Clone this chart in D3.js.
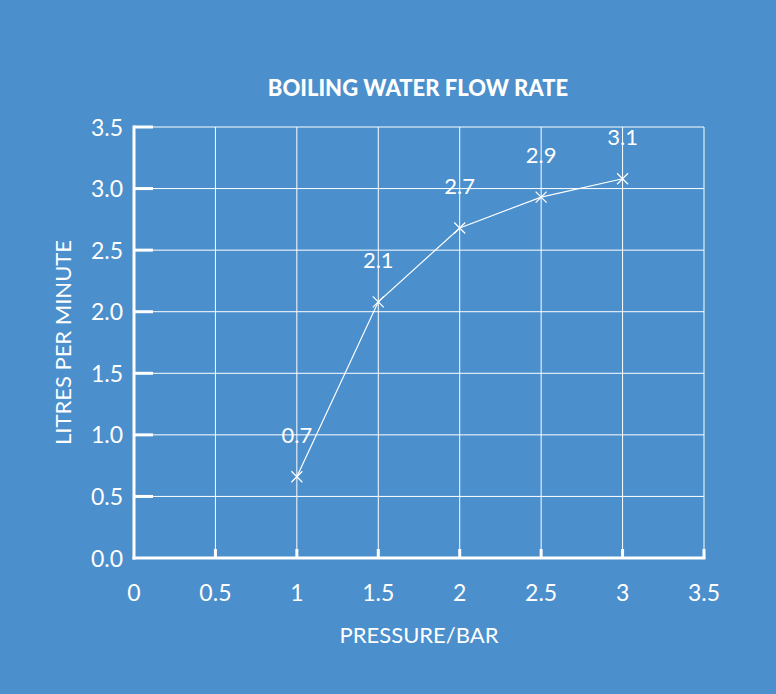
<!DOCTYPE html>
<html>
<head>
<meta charset="utf-8">
<script src="https://cdn.jsdelivr.net/npm/d3@7"></script>
<style>
  body { margin: 0; background: #4b8fcc; }
  svg text { fill: #fff; font-family: "Lato", "Open Sans", sans-serif; }
</style>
</head>
<body>
<svg id="chart"></svg>
<script>
// chart data
var pressures = [1, 1.5, 2, 2.5, 3];
var flowRates = [0.66, 2.08, 2.68, 2.93, 3.08];
var pointLabels = ["0.7", "2.1", "2.7", "2.9", "3.1"];
var xTicks = [0, 0.5, 1, 1.5, 2, 2.5, 3, 3.5];
var xTickLabels = ["0", "0.5", "1", "1.5", "2", "2.5", "3", "3.5"];
var yTicks = [0, 0.5, 1, 1.5, 2, 2.5, 3, 3.5];

var width = 776, height = 694;
var margin = {top: 127, right: 72, bottom: 136, left: 134};

var svg = d3.select("#chart")
  .attr("width", width)
  .attr("height", height);

svg.append("rect")
  .attr("width", width).attr("height", height)
  .attr("fill", "#4b8fcc");

var x = d3.scaleLinear().domain([0, 3.5]).range([margin.left, width - margin.right]);
var y = d3.scaleLinear().domain([0, 3.5]).range([height - margin.bottom, margin.top]);

// title
svg.append("text")
  .attr("x", 418).attr("y", 96)
  .attr("text-anchor", "middle")
  .attr("font-size", 22)
  .attr("font-weight", 900)
  .text("BOILING WATER FLOW RATE");

// grid lines
var grid = svg.append("g").attr("stroke", "#fff").attr("stroke-width", 1);
grid.selectAll(".vg").data(xTicks.slice(1)).enter().append("line")
  .attr("x1", d => x(d)).attr("x2", d => x(d))
  .attr("y1", y(0)).attr("y2", y(3.5));
grid.selectAll(".hg").data(yTicks.slice(1)).enter().append("line")
  .attr("x1", x(0)).attr("x2", x(3.5))
  .attr("y1", d => y(d)).attr("y2", d => y(d));

// thick axis lines and ticks
var axes = svg.append("g").attr("stroke", "#fff").attr("stroke-width", 3);
axes.append("line").attr("x1", x(0)).attr("x2", x(0)).attr("y1", y(0) + 1.5).attr("y2", y(3.5) - 1.5);
axes.append("line").attr("x1", x(0) - 1.5).attr("x2", x(3.5) + 1.5).attr("y1", y(0)).attr("y2", y(0));
axes.selectAll(".yt").data(yTicks.slice(1)).enter().append("line")
  .attr("x1", x(0)).attr("x2", x(0) + 19)
  .attr("y1", d => y(d)).attr("y2", d => y(d));
axes.selectAll(".xt").data(xTicks.slice(1)).enter().append("line")
  .attr("x1", d => x(d)).attr("x2", d => x(d))
  .attr("y1", y(0)).attr("y2", y(0) - 9);

// tick labels
svg.selectAll(".yl").data(yTicks).enter().append("text")
  .attr("x", x(0) - 11).attr("y", d => y(d) + 8.5)
  .attr("text-anchor", "end")
  .attr("font-size", 23)
  .text(d => d.toFixed(1));
svg.selectAll(".xl").data(xTicks).enter().append("text")
  .attr("x", d => x(d)).attr("y", y(0) + 43)
  .attr("text-anchor", "middle")
  .attr("font-size", 23)
  .text((d, i) => xTickLabels[i]);

// axis titles
svg.append("text")
  .attr("x", 419).attr("y", 643)
  .attr("text-anchor", "middle")
  .attr("font-size", 22)
  .text("PRESSURE/BAR");
svg.append("text")
  .attr("transform", "translate(71," + y(1.75) + ") rotate(-90)")
  .attr("text-anchor", "middle")
  .attr("font-size", 22)
  .text("LITRES PER MINUTE");

// data line
var pts = pressures.map((p, i) => [p, flowRates[i]]);
var line = d3.line().x(d => x(d[0])).y(d => y(d[1]));
svg.append("path")
  .datum(pts)
  .attr("d", line)
  .attr("fill", "none")
  .attr("stroke", "#fff")
  .attr("stroke-width", 1.2);

// x markers
var s = 5.5;
svg.selectAll(".mk").data(pts).enter().append("path")
  .attr("d", d => {
    var cx = x(d[0]), cy = y(d[1]);
    return "M" + (cx - s) + "," + (cy - s) + "L" + (cx + s) + "," + (cy + s) +
           "M" + (cx - s) + "," + (cy + s) + "L" + (cx + s) + "," + (cy - s);
  })
  .attr("stroke", "#fff")
  .attr("stroke-width", 1.2);

// point labels
svg.selectAll(".pl").data(pts).enter().append("text")
  .attr("x", d => x(d[0]))
  .attr("y", (d, i) => y(d[1]) - 34)
  .attr("text-anchor", "middle")
  .attr("font-size", 22)
  .text((d, i) => pointLabels[i]);
</script>
</body>
</html>
